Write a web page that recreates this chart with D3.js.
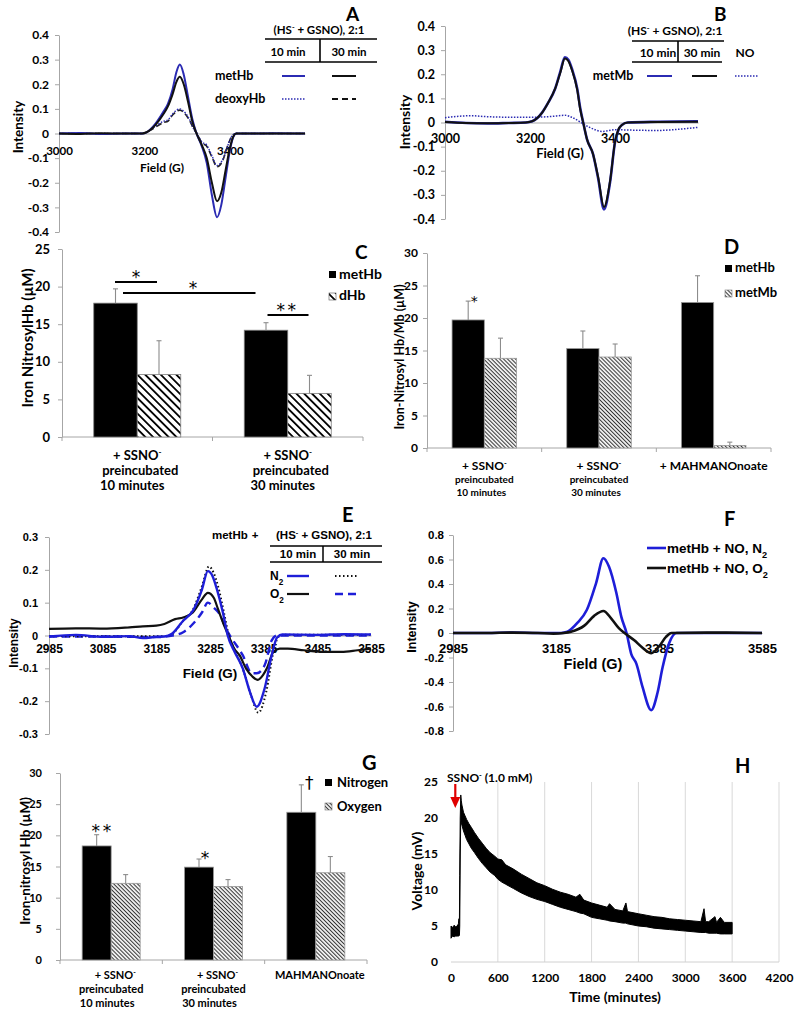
<!DOCTYPE html>
<html><head><meta charset="utf-8">
<script src="https://cdn.jsdelivr.net/npm/d3@7"></script>
<style>body{margin:0;background:#fff}svg{display:block}</style>
</head><body><svg id="c" width="800" height="1014"></svg>
<script>
// ================= DATA =================
// Panel A — EPR spectra (field G, intensity)
const aTicksX = [3000, 3200, 3400];
const aTicksY = [-0.4, -0.3, -0.2, -0.1, 0, 0.1, 0.2, 0.3, 0.4];
const aMetHb10 = [[3000,0],[3050,0.002],[3100,-0.002],[3150,0],[3195,0],[3205,0.005],[3226,0.04],[3245,0.09],[3255,0.12],[3266,0.18],[3275,0.25],[3283,0.28],[3292,0.24],[3302,0.15],[3312,0.06],[3322,0],[3334,-0.05],[3346,-0.12],[3358,-0.25],[3370,-0.34],[3380,-0.29],[3390,-0.18],[3400,-0.07],[3408,-0.015],[3415,0],[3450,0],[3500,0.001],[3576,0]];
const aMetHb30 = [[3000,0],[3050,-0.002],[3100,0.001],[3150,0],[3195,0],[3205,0.005],[3226,0.035],[3245,0.08],[3255,0.11],[3266,0.16],[3275,0.21],[3283,0.23],[3292,0.2],[3302,0.13],[3312,0.05],[3322,0],[3334,-0.045],[3346,-0.1],[3358,-0.2],[3370,-0.275],[3380,-0.24],[3390,-0.15],[3400,-0.06],[3408,-0.012],[3415,0],[3500,0],[3576,0]];
const aDeoxy10 = [[3000,0],[3100,0],[3195,0],[3210,0.01],[3230,0.035],[3245,0.05],[3255,0.055],[3266,0.08],[3283,0.10],[3295,0.085],[3305,0.06],[3315,0.02],[3323,0],[3335,-0.035],[3345,-0.045],[3358,-0.09],[3370,-0.13],[3382,-0.11],[3395,-0.05],[3405,-0.01],[3415,0],[3576,0]];
const aDeoxy30 = [[3000,0],[3100,0],[3195,0],[3210,0.01],[3230,0.03],[3245,0.045],[3255,0.05],[3266,0.075],[3283,0.095],[3295,0.08],[3305,0.055],[3315,0.02],[3323,0],[3335,-0.04],[3345,-0.05],[3358,-0.095],[3370,-0.135],[3382,-0.115],[3395,-0.05],[3405,-0.01],[3415,0],[3576,0]];

// Panel B
const bTicksX = [3000, 3200, 3400];
const bTicksY = [-0.4, -0.3, -0.2, -0.1, 0, 0.1, 0.2, 0.3, 0.4];
const bMetMb10 = [[3000,0.003],[3050,-0.002],[3100,-0.004],[3150,-0.002],[3190,0],[3205,0.005],[3228,0.04],[3242,0.08],[3259,0.14],[3271,0.21],[3282,0.27],[3290,0.26],[3299,0.22],[3311,0.14],[3318,0.06],[3325,0],[3334,-0.07],[3348,-0.13],[3360,-0.23],[3374,-0.36],[3388,-0.25],[3400,-0.08],[3408,-0.03],[3416,-0.01],[3430,0],[3500,0.003],[3595,0.005]];
const bMetMb30 = [[3000,0.002],[3050,-0.002],[3100,-0.003],[3150,-0.002],[3190,0],[3205,0.005],[3228,0.04],[3242,0.08],[3259,0.14],[3271,0.205],[3282,0.265],[3290,0.255],[3299,0.215],[3311,0.135],[3318,0.055],[3325,0],[3334,-0.07],[3348,-0.13],[3360,-0.225],[3374,-0.35],[3388,-0.245],[3400,-0.078],[3408,-0.028],[3416,-0.01],[3430,0],[3500,0.002],[3595,0.003]];
const bNO = [[3000,0.02],[3060,0.028],[3100,0.024],[3150,0.022],[3200,0.022],[3250,0.025],[3282,0.03],[3300,0.02],[3320,0.0],[3340,-0.02],[3370,-0.037],[3400,-0.03],[3450,-0.032],[3500,-0.033],[3550,-0.028],[3595,-0.02]];

// Panel C — bars
const cCats = ["10", "30"];
const cLabels = [["+ SSNO^-", "preincubated", "10 minutes"], ["+ SSNO^-", "preincubated", "30 minutes"]];
const cMetHb = [17.8, 14.2];
const cMetHbErr = [1.9, 1.0];
const cDHb = [8.3, 5.8];
const cDHbErr = [4.5, 2.4];
const cTicksY = [0, 5, 10, 15, 20, 25];

// Panel D — bars
const dCats = ["s10", "s30", "mah"];
const dLabels = [["+ SSNO^-", "preincubated", "10 minutes"], ["+ SSNO^-", "preincubated", "30 minutes"], ["+ MAHMANOnoate"]];
const dMetHb = [19.7, 15.3, 22.4];
const dMetHbErr = [2.9, 2.7, 4.1];
const dMetMb = [13.8, 14.0, 0.4];
const dMetMbErr = [3.1, 2.0, 0.5];
const dTicksY = [0, 5, 10, 15, 20, 25, 30];

// Panel E
const eTicksX = [2985, 3085, 3185, 3285, 3385, 3485, 3585];
const eTicksY = [-0.3, -0.2, -0.1, 0, 0.1, 0.2, 0.3];
const eN2_10 = [[2985,-0.003],[3035,0.002],[3085,-0.004],[3135,-0.002],[3160,-0.008],[3185,-0.004],[3200,-0.003],[3214,0.005],[3235,0.045],[3253,0.075],[3270,0.14],[3281,0.196],[3290,0.18],[3298,0.14],[3309,0.07],[3318,0],[3331,-0.05],[3346,-0.10],[3359,-0.17],[3372,-0.217],[3387,-0.16],[3400,-0.06],[3410,-0.006],[3420,0.003],[3485,0.002],[3535,0.004],[3585,0.003]];
const eN2_30 = [[2985,-0.002],[3100,-0.002],[3200,-0.002],[3214,0.004],[3235,0.045],[3253,0.078],[3270,0.15],[3283,0.21],[3292,0.19],[3300,0.15],[3311,0.07],[3320,0],[3333,-0.05],[3348,-0.11],[3361,-0.18],[3375,-0.235],[3390,-0.17],[3402,-0.06],[3412,-0.005],[3420,0.002],[3585,0.002]];
const eO2_10 = [[2985,0.02],[3035,0.022],[3085,0.021],[3135,0.025],[3160,0.028],[3185,0.03],[3200,0.035],[3220,0.05],[3235,0.055],[3253,0.07],[3270,0.11],[3281,0.13],[3292,0.115],[3300,0.08],[3313,0.024],[3322,-0.01],[3330,-0.04],[3340,-0.06],[3352,-0.1],[3364,-0.125],[3374,-0.135],[3384,-0.12],[3391,-0.10],[3403,-0.05],[3415,-0.04],[3430,-0.04],[3460,-0.045],[3500,-0.05],[3530,-0.05],[3560,-0.045],[3585,-0.04]];
const eO2_30 = [[2985,-0.003],[3085,-0.003],[3185,-0.005],[3215,0],[3235,0.01],[3253,0.035],[3270,0.07],[3281,0.10],[3292,0.085],[3303,0.065],[3315,0.02],[3322,0],[3346,-0.06],[3363,-0.115],[3372,-0.115],[3387,-0.09],[3400,-0.015],[3410,0],[3585,0]];

// Panel F
const fTicksX = [2985, 3185, 3385, 3585];
const fTicksY = [-0.8, -0.6, -0.4, -0.2, 0, 0.2, 0.4, 0.6, 0.8];
const fN2 = [[2985,0],[3050,0],[3100,0.003],[3150,0],[3195,0],[3207,0.01],[3226,0.08],[3245,0.19],[3263,0.41],[3277,0.61],[3288,0.54],[3302,0.33],[3312,0.13],[3322,0],[3331,-0.17],[3341,-0.25],[3353,-0.44],[3370,-0.63],[3382,-0.49],[3392,-0.28],[3405,-0.08],[3419,0],[3500,0],[3585,0]];
const fO2 = [[2985,0],[3050,0],[3100,0.003],[3150,0],[3180,-0.005],[3200,0],[3214,0.01],[3240,0.06],[3259,0.14],[3277,0.18],[3292,0.12],[3307,0.04],[3318,0],[3337,-0.06],[3353,-0.12],[3370,-0.165],[3385,-0.11],[3399,-0.03],[3409,0],[3500,0.003],[3585,0]];

// Panel G — bars
const gCats = ["s10", "s30", "mah"];
const gLabels = [["+ SSNO^-", "preincubated", "10 minutes"], ["+ SSNO^-", "preincubated", "30 minutes"], ["MAHMANOnoate"]];
const gNitrogen = [18.3, 14.9, 23.7];
const gNitrogenErr = [1.8, 1.3, 4.4];
const gOxygen = [12.3, 11.8, 14.0];
const gOxygenErr = [1.4, 1.1, 2.6];
const gMarks = ["**", "*", "†"];
const gTicksY = [0, 5, 10, 15, 20, 25, 30];

// Panel H — voltage trace (noise envelope: low / high)
const hTicksX = [0, 600, 1200, 1800, 2400, 3000, 3600, 4200];
const hTicksY = [0, 5, 10, 15, 20, 25];
const hTime = [0,20,40,60,80,95,100,108,112,118,125,132,140,160,180,200,230,260,300,350,400,450,500,560,600,650,700,800,900,1000,1100,1200,1300,1400,1500,1600,1650,1700,1800,1900,2000,2030,2100,2200,2240,2260,2400,2500,2600,2700,2800,2900,3000,3100,3200,3240,3260,3300,3380,3400,3450,3500,3600];
const hHigh = [5.0,4.8,5.1,4.9,5.0,5.3,6.0,6.0,12,20,23.2,22.4,21.8,20.8,20.3,19.8,19.2,18.7,18.0,17.2,16.5,15.8,15.2,14.7,14.3,14.2,13.5,12.9,12.2,11.6,11.0,10.6,10.1,9.7,9.4,9.0,9.4,8.6,8.2,7.9,7.6,8.1,7.3,7.1,8.2,7.0,6.7,6.5,6.3,6.2,6.0,5.9,5.8,5.7,5.6,7.4,5.6,5.6,6.3,5.5,6.2,5.5,5.5];
const hLow = [3.3,3.6,3.5,3.6,3.6,3.6,3.6,3.7,5,15,19.5,19.3,19.0,18.2,17.6,17.0,16.4,15.8,15.2,14.4,13.7,13.1,12.5,12.0,11.5,11.1,10.8,10.2,9.6,9.1,8.7,8.4,8.0,7.6,7.3,7.0,6.8,6.7,6.2,6.0,5.8,5.7,5.6,5.4,5.4,5.3,5.0,4.9,4.7,4.6,4.5,4.4,4.3,4.2,4.1,4.1,4.1,4.0,4.0,4.0,3.9,3.9,3.9];
const hArrowTime = 55;

// ================= DRAWING =================
const CAL = "Lato, 'Open Sans', sans-serif";
const ARI = "'Liberation Sans', Arial, sans-serif";
const BLUE_A = "#2b2bb3";
const BLUE_E = "#1e1ed8";
const AXC = "#a6a6a6";
const svg = d3.select('#c');

function rich(t, str, size) {
  str.split(/(\^.|_.)/).filter(s => s).forEach(p => {
    if (p[0] === '^' && p.length === 2) t.append('tspan').attr('baseline-shift', 'super').attr('font-size', size * 0.62).text(p[1]);
    else if (p[0] === '_' && p.length === 2) t.append('tspan').attr('baseline-shift', 'sub').attr('font-size', size * 0.68).text(p[1]);
    else t.append('tspan').text(p);
  });
}
function txt(x, y, str, o = {}) {
  const size = o.size || 12;
  const t = svg.append('text').attr('x', x).attr('y', y)
    .attr('font-family', o.font || CAL).attr('font-weight', o.weight || 'bold')
    .attr('font-size', size).attr('text-anchor', o.anchor || 'start').attr('fill', o.fill || '#000');
  if (o.rot) t.attr('transform', `rotate(-90,${x},${y})`).attr('dominant-baseline', 'central');
  if (o.ls) t.attr('letter-spacing', o.ls);
  rich(t, str, size);
  return t;
}
function seg(x1, y1, x2, y2, color, w, dash) {
  const l = svg.append('line').attr('x1', x1).attr('y1', y1).attr('x2', x2).attr('y2', y2)
    .attr('stroke', color).attr('stroke-width', w);
  if (dash) l.attr('stroke-dasharray', dash);
  return l;
}
function styleAxis(a, font, size) {
  a.select('.domain').attr('stroke', AXC);
  a.selectAll('.tick line').attr('stroke', AXC);
  a.selectAll('.tick text').attr('font-family', font).attr('font-weight', 'bold').attr('font-size', size).attr('fill', '#000');
}
const fmt1 = d => (d === 0 ? "0" : String(+d.toFixed(1)));

// asterisk / dagger marks: (cx, cy) = visual centre of the mark
function star(cx, cy, s, size) {
  txt(cx, cy + size * 0.55, s, { size, anchor: 'middle', font: "'DejaVu Sans', sans-serif", weight: 'normal', ls: s.length > 1 ? size * 0.15 : 0 });
}

// patterns
const defs = svg.append('defs');
function hatch(id, gap, w, color) {
  const p = defs.append('pattern').attr('id', id).attr('patternUnits', 'userSpaceOnUse')
    .attr('width', gap).attr('height', gap).attr('patternTransform', 'rotate(-45)');
  p.append('rect').attr('width', gap).attr('height', gap).attr('fill', '#fff');
  p.append('line').attr('x1', gap / 2).attr('y1', 0).attr('x2', gap / 2).attr('y2', gap).attr('stroke', color).attr('stroke-width', w);
}
hatch('hC', 5.5, 1.8, '#000');
hatch('hF', 2.8, 1.1, '#333');

function spectrum(o) {
  const x = d3.scaleLinear().domain(o.xDom).range(o.xRng);
  const y = d3.scaleLinear().domain(o.yDom).range(o.yRng);
  const ya = svg.append('g').attr('transform', `translate(${o.xRng[0]},0)`)
    .call(d3.axisLeft(y).tickValues(o.yTicks).tickSize(4).tickSizeOuter(0).tickPadding(o.yPad).tickFormat(fmt1));
  styleAxis(ya, o.font, o.yFont);
  const xa = svg.append('g').attr('transform', `translate(0,${y(0)})`)
    .call(d3.axisBottom(x).tickValues(o.xTicks).tickSize(0).tickSizeOuter(0).tickPadding(o.xPad).tickFormat(d3.format('d')));
  styleAxis(xa, o.font, o.xFont);
  const line = d3.line().x(d => x(d[0])).y(d => y(d[1])).curve(d3.curveMonotoneX);
  o.series.forEach(s => {
    const p = svg.append('path').datum(s.data).attr('d', line).attr('fill', 'none')
      .attr('stroke', s.color).attr('stroke-width', s.w).attr('stroke-linejoin', 'round');
    if (s.dash) p.attr('stroke-dasharray', s.dash);
  });
  return { x, y };
}

function bars(o) {
  const x0 = d3.scaleBand().domain(o.cats).range(o.xRng);
  const x1 = d3.scaleBand().domain([0, 1]).range([0, x0.bandwidth()]).paddingInner(0).paddingOuter(o.pad);
  const y = d3.scaleLinear().domain(o.yDom).range(o.yRng);
  const ya = svg.append('g').attr('transform', `translate(${o.xRng[0]},0)`)
    .call(d3.axisLeft(y).tickValues(o.yTicks).tickSize(4).tickSizeOuter(0).tickPadding(o.yPad).tickFormat(d3.format('d')));
  styleAxis(ya, CAL, o.yFont);
  seg(o.xRng[0], y(0), o.xRng[1], y(0), AXC, 1);
  o.cats.forEach(c => seg(x0(c), y(0), x0(c), y(0) + 4, AXC, 1));
  seg(o.xRng[1], y(0), o.xRng[1], y(0) + 4, AXC, 1);
  [o.s1, o.s2].forEach((vals, k) => {
    const errs = k === 0 ? o.e1 : o.e2;
    o.cats.forEach((c, i) => {
      const bx = x0(c) + x1(k), bw = x1.bandwidth();
      svg.append('rect').attr('x', bx).attr('y', y(vals[i])).attr('width', bw).attr('height', y(0) - y(vals[i]))
        .attr('fill', o.fills[k]).attr('stroke', o.barStroke).attr('stroke-width', 0.8);
      const cx = bx + bw / 2;
      seg(cx, y(vals[i]), cx, y(vals[i] + errs[i]), '#8c8c8c', 1.1);
      seg(cx - 2.5, y(vals[i] + errs[i]), cx + 2.5, y(vals[i] + errs[i]), '#8c8c8c', 1.1);
    });
  });
  o.cats.forEach((c, i) => {
    const cx = x0(c) + x0.bandwidth() / 2;
    o.labels[i].forEach((ln, j) => {
      txt(cx + (o.lblDx[j] || 0), o.lblY[j], ln, { size: o.lblSize[j], anchor: 'middle' });
    });
  });
  return { x0, x1, y };
}

// ---------- Panel A ----------
spectrum({ xDom: [3000, 3576], xRng: [59, 305], yDom: [-0.4, 0.4], yRng: [232, 35],
  yTicks: aTicksY, xTicks: aTicksX, yPad: 6, xPad: 13, font: CAL, yFont: 12, xFont: 11.5,
  series: [
    { data: aDeoxy30, color: '#222', w: 1.6, dash: '6,3' },
    { data: aDeoxy10, color: BLUE_A, w: 1.4, dash: '1.5,1.5' },
    { data: aMetHb10, color: BLUE_A, w: 2 },
    { data: aMetHb30, color: '#111', w: 2 }
  ] });
txt(18, 127, 'Intensity', { size: 13.5, anchor: 'middle', rot: true });
txt(162, 172, 'Field (G)', { size: 12, anchor: 'middle' });
txt(346, 21, 'A', { size: 19 });
txt(319, 34, '(HS^- + GSNO), 2:1', { size: 11.5, anchor: 'middle' });
seg(265, 39, 377, 39, '#000', 1.6); seg(320, 39, 320, 62, '#000', 1.6); seg(265, 62, 377, 62, '#000', 1.6);
txt(288, 56, '10 min', { size: 11.5, anchor: 'middle' });
txt(349, 56, '30 min', { size: 11.5, anchor: 'middle' });
txt(215, 80, 'metHb', { size: 12.5 });
txt(215, 103, 'deoxyHb', { size: 12.5 });
seg(282, 76, 305, 76, BLUE_A, 2); seg(332, 76, 356, 76, '#111', 2);
seg(282, 99, 305, 99, BLUE_A, 1.4, '1.5,1.5'); seg(332, 99, 356, 99, '#111', 1.8, '6,4');

// ---------- Panel B ----------
spectrum({ xDom: [3000, 3595], xRng: [445, 698], yDom: [-0.4, 0.4], yRng: [219, 26],
  yTicks: bTicksY, xTicks: bTicksX, yPad: 6, xPad: 12, font: CAL, yFont: 12.5, xFont: 12.5,
  series: [
    { data: bNO, color: BLUE_A, w: 1.5, dash: '1.5,1.5' },
    { data: bMetMb10, color: BLUE_A, w: 2.6 },
    { data: bMetMb30, color: '#111', w: 2 }
  ] });
txt(404, 122, 'Intensity', { size: 14, anchor: 'middle', rot: true });
txt(560, 158, 'Field (G)', { size: 13, anchor: 'middle' });
txt(714, 21, 'B', { size: 19 });
txt(675, 35, '(HS^- + GSNO), 2:1', { size: 12, anchor: 'middle' });
seg(632, 41, 724, 41, '#000', 1.6); seg(678, 41, 678, 62, '#000', 1.6); seg(632, 62, 722, 62, '#000', 1.6);
txt(658, 57, '10 min', { size: 12, anchor: 'middle' });
txt(702, 57, '30 min', { size: 12, anchor: 'middle' });
txt(745, 57, 'NO', { size: 12, anchor: 'middle' });
txt(613, 80, 'metMb', { size: 12.5, anchor: 'middle' });
seg(647, 76, 672, 76, BLUE_A, 2); seg(692, 76, 717, 76, '#111', 2); seg(735, 76, 758, 76, BLUE_A, 1.5, '1.5,1.5');

// ---------- Panel C ----------
const C = bars({ cats: cCats, xRng: [62, 363], pad: 0.73, yDom: [0, 25], yRng: [437, 249], yTicks: cTicksY,
  yPad: 8, yFont: 13, s1: cMetHb, e1: cMetHbErr, s2: cDHb, e2: cDHbErr, fills: ['#000', 'url(#hC)'], barStroke: '#7f7f7f',
  labels: cLabels, lblY: [460, 475, 490], lblDx: [0, 3, -5], lblSize: [13, 13, 13] });
txt(27, 338, 'Iron NitrosylHb (µM)', { size: 15, anchor: 'middle', rot: true });
txt(355, 259, 'C', { size: 19 });
svg.append('rect').attr('x', 329).attr('y', 271).attr('width', 7).attr('height', 7).attr('fill', '#000');
txt(339, 279, 'metHb', { size: 14 });
svg.append('rect').attr('x', 329).attr('y', 293).attr('width', 7).attr('height', 7).attr('fill', 'url(#hC)').attr('stroke', '#555').attr('stroke-width', 0.6);
txt(339, 300, 'dHb', { size: 14 });
// significance bars
const c10 = C.x0('10'), c30 = C.x0('30');
seg(c10 + 53, 282, c10 + 95, 282, '#000', 2);
star(c10 + 74, 274, '*', 17);
seg(c10 + 61, 293, c30 + 43, 293, '#000', 2);
star(193, 285, '*', 17);
seg(c30 + 55, 315, c30 + 96, 315, '#000', 2);
star(c30 + 75, 307, '**', 17);

// ---------- Panel D ----------
const D = bars({ cats: dCats, xRng: [427, 771], pad: 0.776, yDom: [0, 30], yRng: [448, 253], yTicks: dTicksY,
  yPad: 5, yFont: 12, s1: dMetHb, e1: dMetHbErr, s2: dMetMb, e2: dMetMbErr, fills: ['#000', 'url(#hF)'], barStroke: '#999',
  labels: dLabels, lblY: [470, 483, 496], lblDx: [0, 0, -3], lblSize: [12, 10, 10] });
txt(399, 357, 'Iron-Nitrosyl Hb/Mb (µM)', { size: 12.5, anchor: 'middle', rot: true });
txt(724, 254, 'D', { size: 20 });
star(D.x0('s10') + D.x1(0) + D.x1.bandwidth() / 2 + 6, 298, '*', 14);
svg.append('rect').attr('x', 725).attr('y', 265).attr('width', 7).attr('height', 7).attr('fill', '#000');
txt(735, 272, 'metHb', { size: 13 });
svg.append('rect').attr('x', 725).attr('y', 290).attr('width', 7).attr('height', 7).attr('fill', 'url(#hF)').attr('stroke', '#777').attr('stroke-width', 0.6);
txt(735, 297, 'metMb', { size: 13 });

// ---------- Panel E ----------
spectrum({ xDom: [2985, 3585], xRng: [49, 371], yDom: [-0.3, 0.3], yRng: [734, 537],
  yTicks: eTicksY, xTicks: eTicksX, yPad: 7, xPad: 9, font: ARI, yFont: 11, xFont: 12,
  series: [
    { data: eO2_30, color: BLUE_E, w: 2.4, dash: '8,5' },
    { data: eO2_10, color: '#111', w: 2.2 },
    { data: eN2_30, color: '#111', w: 2, dash: '1.5,2.5' },
    { data: eN2_10, color: BLUE_E, w: 2.4 }
  ] });
txt(14, 643, 'Intensity', { size: 12, anchor: 'middle', rot: true, font: ARI });
txt(210, 678, 'Field (G)', { size: 13.5, anchor: 'middle', font: ARI });
txt(342, 522, 'E', { size: 20 });
txt(212, 539, 'metHb', { size: 11.5, font: ARI });
txt(255, 539, '+', { size: 11.5, font: ARI, anchor: 'middle' });
txt(324, 539, '(HS^- + GSNO), 2:1', { size: 11.5, anchor: 'middle', font: ARI });
seg(270, 546, 382, 546, '#000', 1.5); seg(323, 546, 323, 562, '#000', 1.5); seg(270, 562, 382, 562, '#000', 1.5);
txt(298, 558, '10 min', { size: 11.5, anchor: 'middle', font: ARI });
txt(352, 558, '30 min', { size: 11.5, anchor: 'middle', font: ARI });
txt(270, 580, 'N_2', { size: 12, font: ARI });
txt(270, 598, 'O_2', { size: 12, font: ARI });
seg(287, 576, 309, 576, BLUE_E, 2.4); seg(335, 576, 357, 576, '#111', 2, '1.5,2.5');
seg(287, 594, 309, 594, '#111', 2.2); seg(335, 594, 357, 594, BLUE_E, 2.4, '8,5');

// ---------- Panel F ----------
spectrum({ xDom: [2985, 3585], xRng: [453, 762], yDom: [-0.8, 0.8], yRng: [731, 535],
  yTicks: fTicksY, xTicks: fTicksX, yPad: 5, xPad: 11, font: ARI, yFont: 11.5, xFont: 13,
  series: [
    { data: fN2, color: BLUE_E, w: 2.6 },
    { data: fO2, color: '#111', w: 2.6 }
  ] });
txt(412, 627, 'Intensity', { size: 12.5, anchor: 'middle', rot: true, font: ARI });
txt(593, 669, 'Field (G)', { size: 14.5, anchor: 'middle', font: ARI });
txt(724, 526, 'F', { size: 20 });
seg(647, 548, 666, 548, BLUE_E, 2.6);
txt(667, 553, 'metHb + NO, N_2', { size: 13.5, font: ARI });
seg(647, 568, 666, 568, '#111', 2.6);
txt(667, 573, 'metHb + NO, O_2', { size: 13.5, font: ARI });

// ---------- Panel G ----------
const G = bars({ cats: gCats, xRng: [60, 367], pad: 0.764, yDom: [0, 30], yRng: [960, 773], yTicks: gTicksY,
  yPad: 14, yFont: 11, s1: gNitrogen, e1: gNitrogenErr, s2: gOxygen, e2: gOxygenErr, fills: ['#000', 'url(#hF)'], barStroke: '#999',
  labels: gLabels, lblY: [979, 993, 1007], lblDx: [4, 0, -4], lblSize: [11, 11, 11] });
txt(25, 861, 'Iron-nitrosyl Hb (µM)', { size: 13.5, anchor: 'middle', rot: true });
txt(362, 770, 'G', { size: 20 });
const gMarkDx = [-6, -6, 8];
const gMarkCy = [828, 855, 782];
gCats.forEach((c, i) => {
  const cx = G.x0(c) + G.x1(0) + G.x1.bandwidth() / 2;
  if (gMarks[i] === '†') txt(cx + gMarkDx[i], gMarkCy[i] + 7, '†', { size: 17, anchor: 'middle', font: "'DejaVu Sans', sans-serif", weight: 'normal' });
  else star(cx + gMarkDx[i] + 12, gMarkCy[i], gMarks[i], 17);
});
svg.append('rect').attr('x', 325).attr('y', 779).attr('width', 7).attr('height', 7).attr('fill', '#000');
txt(337, 787, 'Nitrogen', { size: 13 });
svg.append('rect').attr('x', 325).attr('y', 803).attr('width', 7).attr('height', 7).attr('fill', 'url(#hF)').attr('stroke', '#777').attr('stroke-width', 0.6);
txt(337, 811, 'Oxygen', { size: 13 });

// ---------- Panel H ----------
const hx = d3.scaleLinear().domain([0, 4200]).range([451, 779]);
const hy = d3.scaleLinear().domain([0, 25]).range([962, 782]);
hTicksX.slice(1).forEach(t => seg(hx(t), hy(25), hx(t), hy(0), '#d9d9d9', 1));
seg(hx(0), hy(0), hx(4200), hy(0), '#d0d0d0', 1);
const hya = svg.append('g').attr('transform', `translate(${hx(0)},0)`)
  .call(d3.axisLeft(hy).tickValues(hTicksY).tickSize(0).tickPadding(13).tickFormat(d3.format('d')));
hya.select('.domain').remove();
styleAxis(hya, CAL, 12);
const hxa = svg.append('g').attr('transform', `translate(0,${hy(0)})`)
  .call(d3.axisBottom(hx).tickValues(hTicksX).tickSize(0).tickPadding(11).tickFormat(d3.format('d')));
hxa.select('.domain').remove();
styleAxis(hxa, CAL, 12);
const hData = hTime.map((t, i) => ({ t, lo: hLow[i], hi: hHigh[i] }));
svg.append('path').datum(hData)
  .attr('d', d3.area().x(d => hx(d.t)).y0(d => hy(d.lo)).y1(d => hy(d.hi)))
  .attr('fill', '#000').attr('stroke', '#000').attr('stroke-width', 1);
txt(416, 871, 'Voltage (mV)', { size: 14, anchor: 'middle', rot: true });
txt(615, 1002, 'Time (minutes)', { size: 14, anchor: 'middle' });
txt(735, 773, 'H', { size: 20 });
txt(447, 782, 'SSNO^- (1.0 mM)', { size: 12 });
seg(hx(hArrowTime), 784, hx(hArrowTime), 800, '#e00000', 2.2);
svg.append('path').attr('d', `M${hx(hArrowTime) - 5},797 L${hx(hArrowTime) + 5},797 L${hx(hArrowTime)},808 Z`).attr('fill', '#e00000');
</script>
</body></html>
